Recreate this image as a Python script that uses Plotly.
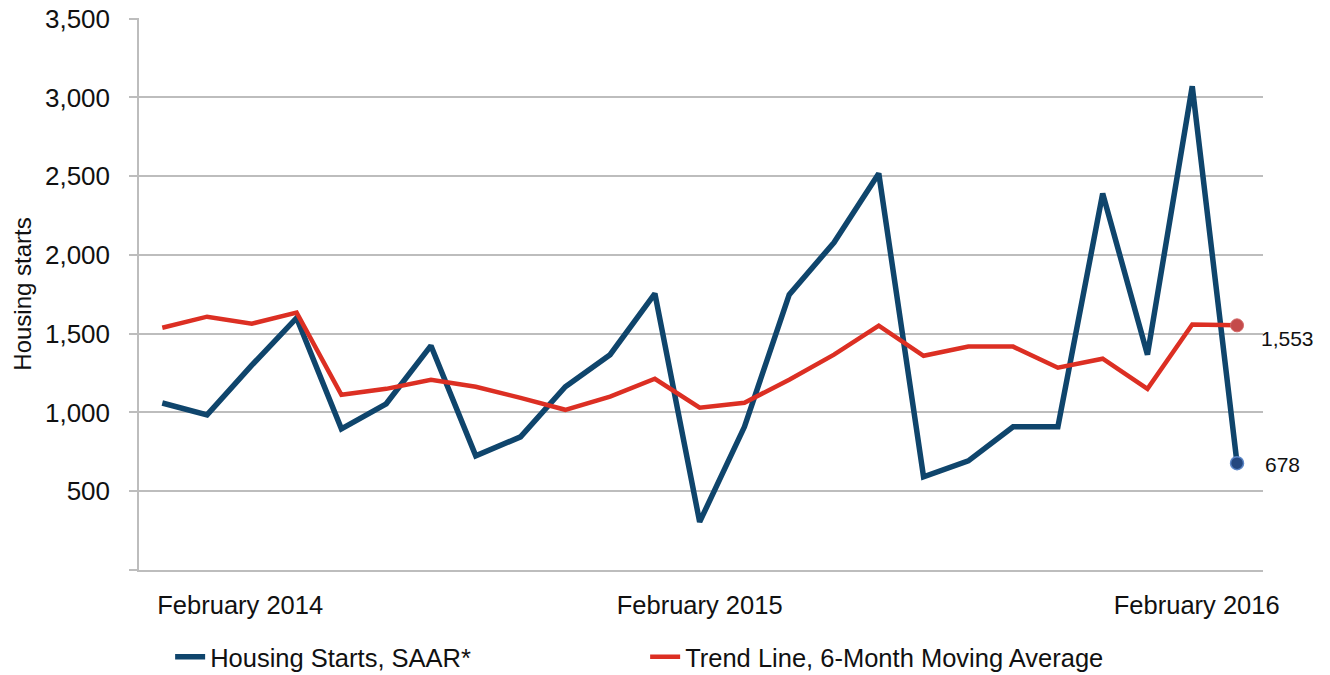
import plotly.graph_objects as go

months = ["Feb 2014", "Mar 2014", "Apr 2014", "May 2014", "Jun 2014", "Jul 2014",
          "Aug 2014", "Sep 2014", "Oct 2014", "Nov 2014", "Dec 2014", "Jan 2015",
          "Feb 2015", "Mar 2015", "Apr 2015", "May 2015", "Jun 2015", "Jul 2015",
          "Aug 2015", "Sep 2015", "Oct 2015", "Nov 2015", "Dec 2015", "Jan 2016",
          "Feb 2016"]
housing_starts = [1060, 985, 1300, 1600, 896, 1055, 1424, 725, 845, 1163, 1367, 1755,
                  305, 909, 1748, 2079, 2517, 591, 693, 909, 909, 2390, 1367, 3071, 678]
trend_6mo = [1538, 1608, 1564, 1634, 1112, 1150, 1208, 1163, 1093, 1017, 1100, 1214,
             1030, 1062, 1208, 1367, 1551, 1360, 1418, 1418, 1284, 1341, 1150, 1558, 1553]
x_tick_pos = [1.74, 12.0, 23.1]
x_tick_text = ["February 2014", "February 2015", "February 2016"]
y_ticks = [0, 500, 1000, 1500, 2000, 2500, 3000, 3500]
y_tick_text = ["", "500", "1,000", "1,500", "2,000", "2,500", "3,000", "3,500"]

BLUE = "#0F456C"
RED = "#DC2F23"
GRID = "#BDBDBD"
FONT = "Liberation Sans, Arial, sans-serif"

idx = list(range(len(months)))

fig = go.Figure()
fig.add_trace(go.Scatter(
    x=idx, y=housing_starts, mode="lines", name="Housing Starts, SAAR*",
    line=dict(color=BLUE, width=5.5), customdata=months,
    hovertemplate="%{customdata}: %{y:,}<extra></extra>"))
fig.add_trace(go.Scatter(
    x=idx, y=trend_6mo, mode="lines", name="Trend Line, 6-Month Moving Average",
    line=dict(color=RED, width=4.5), customdata=months,
    hovertemplate="%{customdata}: %{y:,}<extra></extra>"))
# end-point markers
fig.add_trace(go.Scatter(
    x=[idx[-1]], y=[trend_6mo[-1]], mode="markers", showlegend=False,
    marker=dict(size=13, color="#C44B4B", line=dict(color="#D46A6A", width=1)),
    hoverinfo="skip"))
fig.add_trace(go.Scatter(
    x=[idx[-1]], y=[housing_starts[-1]], mode="markers", showlegend=False,
    marker=dict(size=13, color="#24487F", line=dict(color="#5B86C6", width=1.5)),
    hoverinfo="skip"))

fig.add_annotation(x=idx[-1], y=trend_6mo[-1], text=f"{trend_6mo[-1]:,}",
                   showarrow=False, xanchor="left", xshift=22, yshift=-13,
                   font=dict(size=21, color="#111111", family=FONT))
fig.add_annotation(x=idx[-1], y=housing_starts[-1], text=f"{housing_starts[-1]:,}",
                   showarrow=False, xanchor="left", xshift=26, yshift=-1,
                   font=dict(size=21, color="#111111", family=FONT))

fig.update_layout(
    width=1330, height=675,
    margin=dict(l=139, r=67, t=18, b=105, autoexpand=False),
    paper_bgcolor="white", plot_bgcolor="white",
    font=dict(family=FONT, color="#111111", size=25),
    showlegend=True,
    legend=dict(orientation="h", x=0.0277, xanchor="left", y=-0.158, yanchor="middle",
                entrywidth=430, entrywidthmode="pixels",
                font=dict(size=25.5, family=FONT), bgcolor="rgba(0,0,0,0)",
                itemwidth=30),
)
fig.update_xaxes(
    range=[-0.52, 24.58], tickmode="array", tickvals=x_tick_pos, ticktext=x_tick_text,
    showgrid=False, zeroline=False, showline=True, linecolor=GRID, linewidth=1.5,
    ticks="", tickfont=dict(size=25.5, family=FONT), ticklabelstandoff=12,
    fixedrange=True)
fig.update_yaxes(
    range=[0, 3504], tickmode="array", tickvals=y_ticks, ticktext=y_tick_text,
    showgrid=True, gridcolor=GRID, gridwidth=1.5, zeroline=False,
    showline=True, linecolor=GRID, linewidth=1.5,
    ticks="outside", ticklen=8, tickcolor=GRID, tickwidth=1.5,
    tickfont=dict(size=26, family=FONT), ticklabelstandoff=14,
    ticklabeloverflow="allow",
    title=dict(text="Housing starts", font=dict(size=24, family=FONT), standoff=7),
    fixedrange=True)

# remove the browser's default 8px body margin so the figure fills the window
fig.write_html("out.html",
               config={"displayModeBar": False},
               post_script="document.body.style.margin='0';"
                           "document.body.style.overflow='hidden';")
